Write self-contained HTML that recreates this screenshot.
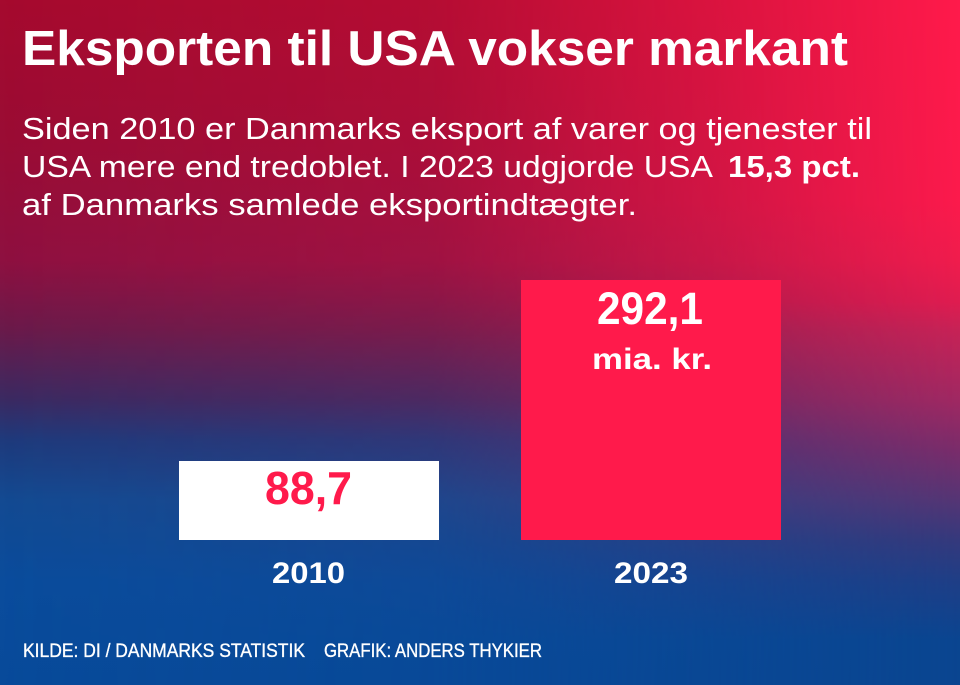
<!DOCTYPE html>
<html>
<head>
<meta charset="utf-8">
<style>
html,body{margin:0;padding:0;background:#0a4c9c;}
body{width:960px;height:685px;overflow:hidden;}
svg{display:block;}
text{font-family:"Liberation Sans",Arial,sans-serif;}
</style>
</head>
<body>
<svg width="960" height="685" viewBox="0 0 960 685" xmlns="http://www.w3.org/2000/svg">
  <defs>
    <linearGradient id="lv" x1="0" y1="0" x2="0" y2="1">
      <stop offset="0" stop-color="#a50a2e"/>
      <stop offset="0.20" stop-color="#9a0c34"/>
      <stop offset="0.38" stop-color="#8e1040"/>
      <stop offset="0.48" stop-color="#6a1a4a"/>
      <stop offset="0.584" stop-color="#3a2a62"/>
      <stop offset="0.642" stop-color="#1e3a7c"/>
      <stop offset="0.73" stop-color="#134a92"/>
      <stop offset="0.85" stop-color="#0a4c9c"/>
      <stop offset="1" stop-color="#084a9a"/>
    </linearGradient>
    <linearGradient id="rv" x1="0" y1="0" x2="0" y2="1">
      <stop offset="0" stop-color="#ff1a4b"/>
      <stop offset="0.29" stop-color="#fc1a4c"/>
      <stop offset="0.38" stop-color="#f01c4d"/>
      <stop offset="0.44" stop-color="#e01c50"/>
      <stop offset="0.48" stop-color="#c82256"/>
      <stop offset="0.584" stop-color="#a02862"/>
      <stop offset="0.657" stop-color="#7a2c6a"/>
      <stop offset="0.73" stop-color="#553574"/>
      <stop offset="0.79" stop-color="#34397c"/>
      <stop offset="0.847" stop-color="#1f3e86"/>
      <stop offset="0.934" stop-color="#0a4590"/>
      <stop offset="1" stop-color="#0a4590"/>
    </linearGradient>
    <linearGradient id="hg" x1="0" y1="0" x2="1" y2="0">
      <stop offset="0" stop-color="#fff" stop-opacity="0"/>
      <stop offset="0.45" stop-color="#fff" stop-opacity="0.18"/>
      <stop offset="0.75" stop-color="#fff" stop-opacity="0.6"/>
      <stop offset="1" stop-color="#fff" stop-opacity="1"/>
    </linearGradient>
    <mask id="m" maskUnits="userSpaceOnUse" x="0" y="0" width="960" height="685">
      <rect x="0" y="0" width="960" height="685" fill="url(#hg)"/>
    </mask>
  </defs>

  <!-- background -->
  <rect x="0" y="0" width="960" height="685" fill="url(#lv)"/>
  <rect x="0" y="0" width="960" height="685" fill="url(#rv)" mask="url(#m)"/>

  <!-- title -->
  <text x="22" y="65" font-size="49" font-weight="bold" fill="#fff" textLength="826" lengthAdjust="spacingAndGlyphs">Eksporten til USA vokser markant</text>

  <!-- subtitle -->
  <text x="22" y="139" font-size="30.5" fill="#fff" textLength="850" lengthAdjust="spacingAndGlyphs">Siden 2010 er Danmarks eksport af varer og tjenester til</text>
  <text x="22" y="177" font-size="30.5" fill="#fff" textLength="691" lengthAdjust="spacingAndGlyphs">USA mere end tredoblet. I 2023 udgjorde USA</text>
  <text x="728" y="177" font-size="30.5" font-weight="bold" fill="#fff" textLength="132" lengthAdjust="spacingAndGlyphs">15,3 pct.</text>
  <text x="22" y="215" font-size="30.5" fill="#fff" textLength="615" lengthAdjust="spacingAndGlyphs">af Danmarks samlede eksportindtægter.</text>

  <!-- bars -->
  <rect x="179" y="461" width="260" height="79" fill="#ffffff"/>
  <rect x="521" y="280" width="260" height="260" fill="#ff1a4b"/>

  <!-- bar values -->
  <text x="265" y="504" font-size="46" font-weight="bold" fill="#ff1a4b" textLength="87" lengthAdjust="spacingAndGlyphs">88,7</text>
  <text x="597" y="324" font-size="45" font-weight="bold" fill="#fff" textLength="106" lengthAdjust="spacingAndGlyphs">292,1</text>
  <text x="592" y="369" font-size="30" font-weight="bold" fill="#fff" textLength="120" lengthAdjust="spacingAndGlyphs">mia. kr.</text>

  <!-- category labels -->
  <text x="272" y="583" font-size="30" font-weight="bold" fill="#fff" textLength="73" lengthAdjust="spacingAndGlyphs">2010</text>
  <text x="614" y="583" font-size="30" font-weight="bold" fill="#fff" textLength="74" lengthAdjust="spacingAndGlyphs">2023</text>

  <!-- footer -->
  <text x="23" y="657" font-size="19.5" fill="#fff" stroke="#fff" stroke-width="0.35" textLength="282" lengthAdjust="spacingAndGlyphs">KILDE: DI / DANMARKS STATISTIK</text>
  <text x="324" y="657" font-size="19.5" fill="#fff" stroke="#fff" stroke-width="0.35" textLength="218" lengthAdjust="spacingAndGlyphs">GRAFIK: ANDERS THYKIER</text>
</svg>
</body>
</html>
